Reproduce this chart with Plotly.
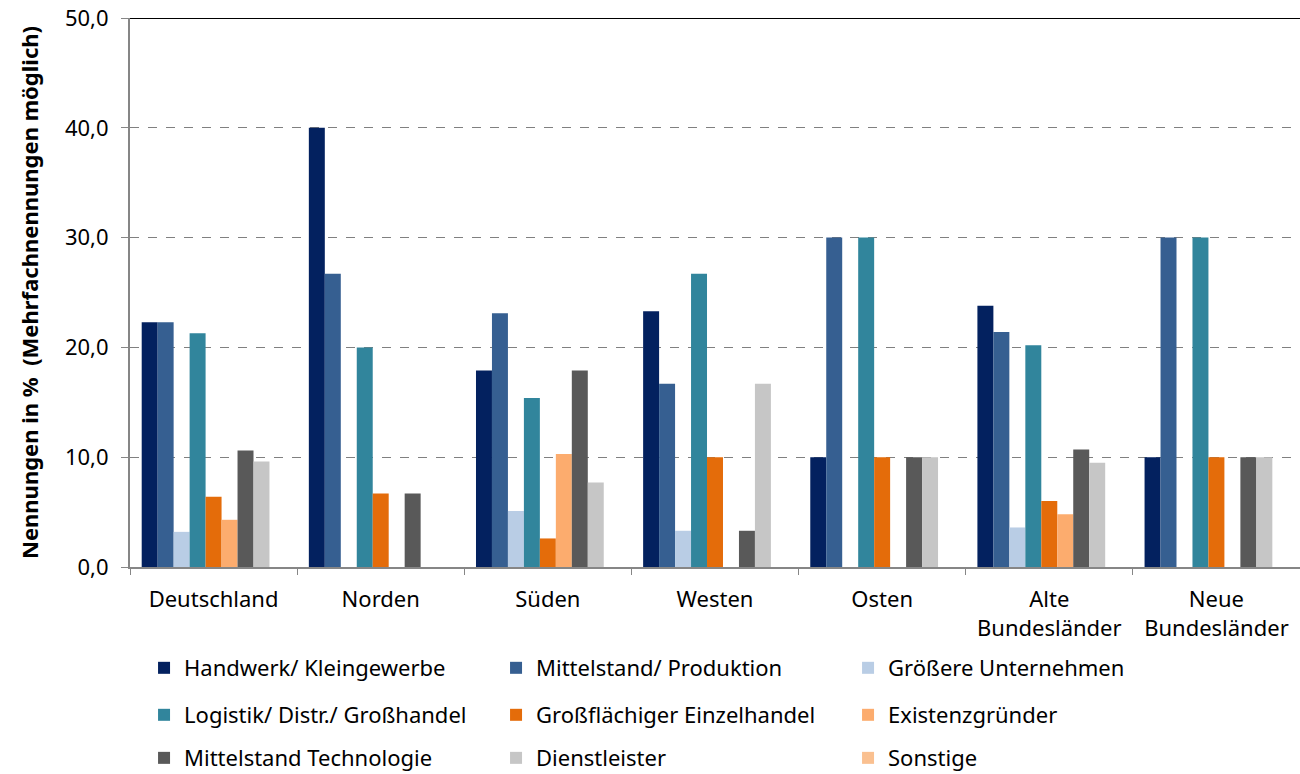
import plotly.graph_objects as go

categories = ["Deutschland", "Norden", "Süden", "Westen", "Osten", "Alte<br>Bundesländer", "Neue<br>Bundesländer"]

series_names = [
    "Handwerk/ Kleingewerbe", "Mittelstand/ Produktion", "Größere Unternehmen",
    "Logistik/ Distr./ Großhandel", "Großflächiger Einzelhandel", "Existenzgründer",
    "Mittelstand Technologie", "Dienstleister", "Sonstige",
]

handwerk = [22.3, 40.0, 17.9, 23.3, 10.0, 23.8, 10.0]
mittelstand = [22.3, 26.7, 23.1, 16.7, 30.0, 21.4, 30.0]
groessere = [3.2, 0.0, 5.1, 3.3, 0.0, 3.6, 0.0]
logistik = [21.3, 20.0, 15.4, 26.7, 30.0, 20.2, 30.0]
grossflaechig = [6.4, 6.7, 2.6, 10.0, 10.0, 6.0, 10.0]
existenz = [4.3, 0.0, 10.3, 0.0, 0.0, 4.8, 0.0]
technologie = [10.6, 6.7, 17.9, 3.3, 10.0, 10.7, 10.0]
dienstleister = [9.6, 0.0, 7.7, 16.7, 10.0, 9.5, 10.0]
sonstige = [0.0, 0.0, 0.0, 0.0, 0.0, 0.0, 0.0]

series_values = [handwerk, mittelstand, groessere, logistik, grossflaechig,
                 existenz, technologie, dienstleister, sonstige]

colors = ["#03215F", "#365F91", "#B9CDE5", "#31859C", "#E46C0A",
          "#FCAC6E", "#595959", "#C6C6C6", "#FAC090"]

legend_ids = ["legend", "legend", "legend", "legend2", "legend2", "legend2",
              "legend3", "legend3", "legend3"]

y_ticks = [0, 10, 20, 30, 40, 50]

fig = go.Figure()
for name, vals, col, lg in zip(series_names, series_values, colors, legend_ids):
    fig.add_trace(go.Bar(x=categories, y=vals, name=name, marker_color=col,
                         marker_line_width=0, legend=lg))

font_family = "Noto Sans, Open Sans, sans-serif"
FS = 22

def leg(y):
    return dict(orientation="h", x=0.012, xanchor="left", y=y, yanchor="middle",
                entrywidth=307, entrywidthmode="pixels",
                font=dict(size=FS, color="#000000", family=font_family),
                bgcolor="rgba(0,0,0,0)", traceorder="normal")

fig.update_layout(
    width=1300, height=774,
    margin=dict(l=130, r=0, t=18, b=207, autoexpand=False),
    paper_bgcolor="white", plot_bgcolor="white",
    barmode="group", bargap=0.14, bargroupgap=0,
    separators=",.",
    font=dict(family=font_family, size=FS, color="#000000"),
    showlegend=True,
    legend=leg(-0.184),
    legend2=leg(-0.2696),
    legend3=leg(-0.348),
    xaxis=dict(
        automargin=False,
        showline=True, linecolor="#868686", linewidth=2,
        ticks="outside", tickson="boundaries", ticklen=6, tickcolor="#868686",
        tickfont=dict(size=FS, color="#000000"), ticklabelstandoff=12,
        showgrid=False,
    ),
    yaxis=dict(
        automargin=False,
        range=[0, 50], tickvals=y_ticks, tickformat=".1f",
        showline=True, linecolor="#868686", linewidth=2,
        ticks="outside", ticklen=7, tickcolor="#868686",
        tickfont=dict(size=FS, color="#000000"), ticklabelstandoff=8,
        ticklabeloverflow="allow",
        showgrid=True, gridcolor="#808080", griddash="dash", gridwidth=1,
        zeroline=False,
        title=dict(text="<b>Nennungen in %  (Mehrfachnennungen möglich)</b>",
                   font=dict(size=FS, color="#000000"), standoff=20),
    ),
)

fig.add_shape(type="line", xref="paper", yref="y", x0=0, x1=1, y0=50, y1=50,
              line=dict(color="#000000", width=2))

fig.write_html("out.html",
               config={"displayModeBar": False},
               post_script="document.body.style.margin='0';document.body.style.overflow='hidden';")
